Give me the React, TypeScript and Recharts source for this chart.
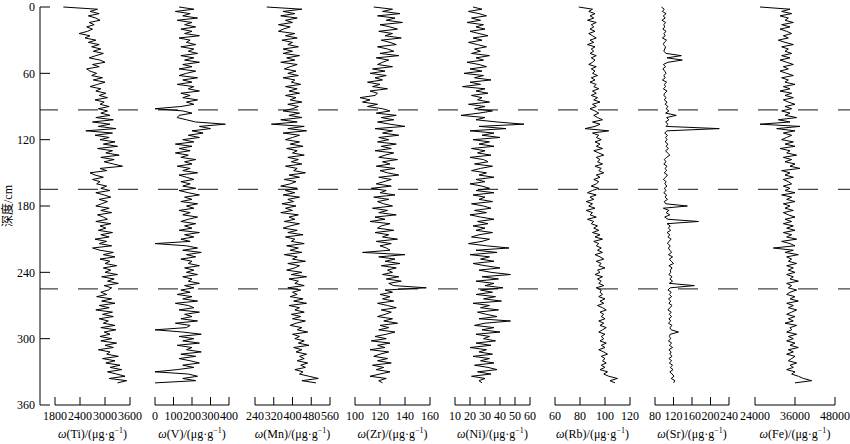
import { LineChart, Line, XAxis, YAxis, ReferenceLine, Label } from 'recharts'

const FONT = "'Liberation Serif', 'Times New Roman', 'Noto Sans CJK SC', serif"

// sampling depths (cm), every 2 cm from 0 to 340
const depths = Array.from({ length: 171 }, (_, i) => i * 2)
const depthTicks = [0, 60, 120, 180, 240, 300, 360]
const boundaries = [93, 165, 255]

const ti = [
  2000, 2820, 2640, 2860, 2600, 2780, 2880, 2620, 2740, 2560,
  2700, 2580, 2380, 2640, 2520, 2780, 2600, 2860, 2680, 2900,
  2720, 2960, 2780, 2620, 2880, 3000, 2700, 2860, 2560, 2640,
  2800, 2680, 2940, 2720, 3000, 2820, 2640, 2900, 2780, 3020,
  2860, 3060, 2760, 2980, 2880, 3100, 2840, 3060, 2900, 3120,
  2780, 3200, 2700, 3120, 2840, 3260, 2540, 3180, 2760, 3100,
  2880, 3240, 2960, 3300, 2820, 3180, 3020, 3340, 2900, 3220,
  2980, 3200, 3420, 2880, 3040, 2640, 2760, 2960, 2700, 2880,
  2800, 3040, 2900, 3120, 2780, 2980, 3140, 2860, 3060, 2920,
  2780, 3100, 2900, 3160, 2820, 2960, 3060, 2780, 3140, 2880,
  3020, 2840, 3180, 2900, 3100, 2760, 3040, 2860, 3160, 2700,
  2880, 3200, 2960, 3240, 2880, 3120, 3000, 3280, 2960, 3140,
  3000, 3300, 2920, 3220, 3060, 3320, 2980, 3160, 3080, 2900,
  3040, 2800, 3160, 2920, 3240, 2860, 3100, 2780, 3180, 2940,
  3200, 2860, 3080, 2960, 3240, 2900, 3260, 2980, 3120, 2880,
  3160, 2900, 3280, 3000, 3200, 2840, 3120, 3040, 3320, 2940,
  3240, 3020, 3360, 3120, 3400, 3060, 3280, 3480, 3100, 3520,
  3300,
]

const v = [
  130, 210, 110, 190, 150, 230, 120, 200, 160, 220,
  140, 200, 160, 240, 130, 190, 170, 220, 140, 210,
  180, 230, 140, 210, 160, 240, 150, 200, 130, 220,
  170, 130, 230, 150, 200, 120, 210, 180, 240, 140,
  190, 150, 230, 170, 210, 140, 0, 150, 200, 130,
  120, 170, 220, 380, 240, 300, 200, 260, 180, 240,
  150, 210, 110, 200, 130, 190, 110, 180, 140, 220,
  160, 200, 120, 190, 150, 230, 130, 170, 210, 140,
  190, 150, 220, 130, 180, 240, 160, 200, 140, 230,
  170, 210, 130, 190, 150, 230, 180, 140, 220, 160,
  200, 130, 240, 160, 210, 140, 190, 0, 170, 230,
  150, 250, 170, 220, 140, 200, 180, 240, 160, 210,
  170, 230, 150, 200, 180, 240, 160, 210, 140, 190,
  120, 200, 150, 230, 110, 180, 210, 130, 240, 160,
  200, 140, 230, 110, 190, 170, 0, 150, 250, 130,
  210, 150, 240, 120, 200, 170, 250, 140, 220, 130,
  190, 240, 150, 210, 120, 0, 180, 230, 150, 220,
  0,
]

const mn = [
  290, 440, 360, 410, 350, 420, 370, 400, 340, 390,
  360, 340, 410, 370, 420, 355, 400, 380, 425, 360,
  400, 360, 430, 375, 410, 350, 420, 390, 365, 415,
  380, 425, 360, 410, 395, 435, 370, 420, 385, 430,
  370, 415, 390, 440, 380, 425, 400, 360, 430, 385,
  440, 350, 420, 310, 450, 380, 460, 360, 430, 400,
  370, 430, 390, 445, 375, 420, 400, 450, 380, 425,
  395, 440, 370, 420, 405, 455, 385, 430, 365, 415,
  390, 350, 420, 370, 410, 360, 430, 380, 405, 355,
  415, 370, 400, 350, 425, 385, 410, 365, 430, 390,
  360, 420, 380, 445, 370, 410, 395, 450, 375, 425,
  390, 440, 365, 420, 400, 455, 380, 430, 410, 375,
  440, 395, 460, 385, 425, 410, 450, 380, 435, 400,
  420, 390, 445, 405, 460, 385, 430, 410, 450, 395,
  435, 400, 455, 415, 390, 440, 420, 465, 400, 430,
  410, 450, 425, 470, 405, 440, 415, 460, 430, 450,
  420, 465, 435, 455, 410, 445, 430, 470, 510, 440,
  500,
]

const zr = [
  115, 130, 122, 136, 118, 132, 125, 138, 120, 128,
  134, 119, 130, 124, 137, 121, 128, 133, 118, 126,
  131, 120, 135, 117, 127, 122, 118, 130, 114, 124,
  112, 125, 116, 122, 110, 120, 114, 126, 112, 118,
  116, 104, 112, 106, 118, 110, 122, 128, 117, 133,
  121, 131, 118, 128, 140, 116, 130, 122, 135, 119,
  127, 118, 133, 121, 129, 116, 131, 124, 119, 134,
  122, 128, 117, 132, 120, 126, 135, 119, 129, 123,
  117, 129, 113, 125, 120, 132, 115, 127, 118, 123,
  130, 114, 126, 119, 133, 116, 124, 112, 128, 121,
  118, 131, 116, 127, 122, 134, 117, 129, 120, 125,
  128, 106, 140, 119, 132, 124, 136, 121, 133, 126,
  130, 122, 135, 125, 137, 127, 131, 157, 124, 130,
  120, 128, 122, 131, 118, 126, 133, 121, 129, 124,
  118, 130, 123, 134, 120, 127, 119, 132, 125, 116,
  125, 113, 128, 118, 124, 112, 127, 120, 115, 126,
  118, 129, 114, 123, 117, 128, 120, 112, 125, 119,
  122,
]

const ni = [
  22, 28, 19, 26, 31, 21, 27, 18, 29, 24,
  30, 20, 26, 32, 22, 28, 19, 25, 31, 23,
  27, 21, 33, 24, 29, 18, 26, 31, 20, 28,
  16, 29, 23, 34, 20, 27, 15, 30, 24, 32,
  21, 28, 25, 33, 19, 30, 23, 35, 26, 14,
  30, 24, 38, 56, 26, 44, 20, 36, 28, 40,
  22, 33, 26, 36, 21, 30, 25, 34, 20, 29,
  32, 23, 35, 27, 21, 31, 26, 36, 24, 30,
  20, 28, 33, 24, 36, 22, 30, 26, 35, 21,
  29, 34, 23, 31, 20, 27, 36, 25, 32, 22,
  30, 24, 35, 26, 21, 33, 28, 19, 31, 46,
  24, 38, 20, 33, 27, 36, 22, 30, 40, 26,
  34, 47, 28, 39, 24, 36, 30, 42, 27, 35,
  24, 37, 29, 41, 22, 33, 27, 39, 25, 31,
  38, 26, 47, 30, 23, 36, 28, 40, 24, 33,
  29, 37, 24, 34, 20, 31, 26, 35, 22, 33,
  27, 36, 23, 32, 38, 25, 34, 21, 30, 26,
  28,
]

const rb = [
  79, 90, 87, 92, 88, 91, 86, 93, 89, 91,
  88, 92, 87, 90, 93, 88, 91, 86, 92, 89,
  91, 88, 93, 89, 92, 90, 87, 93, 89, 92,
  90, 94, 89, 92, 88, 93, 91, 95, 90, 93,
  89, 94, 91, 96, 90, 93, 88, 92, 95, 91,
  94, 98, 90, 96, 92, 84, 103, 90, 95, 93,
  97, 92, 96, 93, 98, 91, 95, 99, 93, 96,
  94, 98, 92, 97, 95, 99, 93, 96, 91, 95,
  93, 89, 95, 90, 86, 93, 88, 91, 85, 90,
  87, 92, 85, 90, 88, 93, 86, 91, 89, 94,
  91, 95, 90, 96, 92, 98, 91, 95, 93, 97,
  94, 98, 92, 96, 99, 93, 97, 95, 100, 94,
  96, 92, 98, 94, 97, 95, 99, 93, 97, 96,
  98, 95, 100, 96, 99, 94, 98, 101, 96, 99,
  97, 100, 95, 99, 96, 101, 98, 95, 100, 97,
  99, 96, 101, 97, 100, 95, 99, 102, 97, 100,
  98, 101, 97, 100, 96, 102, 99, 103, 110, 104,
  108,
]

const sr = [
  94, 100, 96, 104, 98, 102, 95, 103, 99, 101,
  97, 104, 99, 102, 96, 105, 100, 98, 103, 101,
  99, 104, 137, 106, 139, 108, 98, 103, 97, 101,
  104, 99, 102, 96, 105, 100, 103, 98, 106, 101,
  99, 104, 100, 106, 102, 108, 104, 110, 103, 126,
  105, 110, 103, 108, 104, 219, 106, 101, 107, 103,
  106, 102, 108, 104, 109, 103, 107, 112, 105, 100,
  104, 99, 106, 102, 105, 100, 107, 103, 98, 104,
  101, 106, 100, 104, 99, 105, 102, 107, 100, 103,
  150, 98, 110, 104, 112, 101, 108, 174, 106, 113,
  109, 114, 106, 112, 108, 115, 110, 107, 113, 109,
  112, 116, 109, 118, 111, 115, 120, 110, 117, 113,
  114, 110, 117, 112, 118, 111, 165, 113, 108, 115,
  111, 116, 109, 114, 110, 117, 112, 108, 115, 111,
  116, 110, 114, 109, 117, 112, 115, 131, 113, 111,
  114, 109, 116, 111, 118, 110, 115, 112, 117, 110,
  116, 111, 118, 113, 119, 112, 117, 121, 115, 123,
  120,
]

const fe = [
  25500, 34500, 32000, 35000, 31500, 34000, 33000, 35500, 32000, 34500,
  31500, 33500, 35000, 32500, 34000, 31000, 33000, 35500, 32000, 34000,
  33000, 35000, 32000, 34500, 31500, 33500, 35500, 32500, 34000, 31500,
  33500, 35500, 32000, 34000, 33000, 36000, 32500, 34500, 31500, 35000,
  33000, 35500, 32500, 34000, 36000, 33000, 35000, 32000, 34500, 33000,
  36500, 31000, 34500, 25500, 37500, 30500, 36000, 32500, 35000, 33500,
  32000, 35500, 33000, 36000, 31500, 34500, 33500, 36500, 32500, 35000,
  33000, 36000, 34500, 37500, 32000, 34500, 33000, 35500, 32500, 34000,
  35000, 32500, 34500, 33000, 36000, 32000, 35000, 33500, 36000, 32500,
  34500, 33000, 35500, 32500, 34000, 36000, 33000, 35000, 32500, 35500,
  33500, 36000, 32500, 35000, 33500, 36500, 32000, 34500, 36000, 29500,
  35500, 33000, 37000, 33500, 35000, 34000, 36500, 33500, 35500, 34000,
  36000, 33500, 35500, 34500, 37000, 33500, 35000, 34000, 36500, 34500,
  33500, 36000, 34500, 37000, 33500, 35500, 34000, 36500, 35000, 33500,
  36000, 34000, 35500, 33000, 36500, 34500, 35000, 33500, 36500, 34000,
  35500, 33500, 36000, 34500, 37000, 34000, 35500, 33500, 36000, 35000,
  34000, 36500, 34500, 35500, 33500, 36000, 35000, 37000, 38500, 41000,
  36000,
]

const rows = depths.map((depth, i) => ({
  depth,
  Ti: ti[i],
  V: v[i],
  Mn: mn[i],
  Zr: zr[i],
  Ni: ni[i],
  Rb: rb[i],
  Sr: sr[i],
  Fe: fe[i],
}))

const panels = [
  { key: 'Ti', left: 55, width: 75, ticks: [1800, 2400, 3000, 3600] },
  { key: 'V', left: 155, width: 74, ticks: [0, 100, 200, 300, 400] },
  { key: 'Mn', left: 255, width: 75, ticks: [240, 320, 400, 480, 560] },
  { key: 'Zr', left: 355, width: 75, ticks: [100, 120, 140, 160] },
  { key: 'Ni', left: 455, width: 75, ticks: [10, 20, 30, 40, 50, 60] },
  { key: 'Rb', left: 555, width: 75, ticks: [60, 80, 100, 120] },
  { key: 'Sr', left: 655, width: 74, ticks: [80, 120, 160, 200, 240] },
  { key: 'Fe', left: 755, width: 80, ticks: [24000, 36000, 48000] },
]

const H = 444
const TOP = 7
const BOTTOM = 39
const tickStyle = { fill: '#000', fontSize: 12, fontFamily: FONT }

function AxisTitle({ viewBox, name }: any) {
  const cx = viewBox.x + viewBox.width / 2
  return (
    <text x={cx} y={viewBox.y + 33} textAnchor="middle" fontSize={12} fontFamily={FONT} fill="#000">
      <tspan fontStyle="italic">ω</tspan>
      <tspan>({name})/(μg·g</tspan>
      <tspan dy={-5} fontSize={8}>−1</tspan>
      <tspan dy={5}>)</tspan>
    </text>
  )
}

function Panel({ p }: { p: (typeof panels)[number] }) {
  const pad = 30
  const min = p.ticks[0]
  const max = p.ticks[p.ticks.length - 1]
  return (
    <div style={{ position: 'absolute', left: p.left - pad, top: 0 }}>
      <LineChart
        width={p.width + pad * 2}
        height={H}
        data={rows}
        layout="vertical"
        margin={{ top: TOP, right: pad, left: pad, bottom: BOTTOM - 30 }}
      >
        <XAxis
          type="number"
          domain={[min, max]}
          ticks={p.ticks}
          interval={0}
          height={30}
          tickSize={-8}
          tickMargin={14}
          tick={tickStyle}
          axisLine={{ stroke: '#000' }}
          tickLine={{ stroke: '#000' }}
          label={<Label content={(props: any) => <AxisTitle viewBox={props.viewBox} name={p.key} />} />}
        />
        <YAxis hide type="number" dataKey="depth" domain={[0, 360]} />
        <Line
          dataKey={p.key}
          stroke="#000"
          strokeWidth={1}
          dot={false}
          type="linear"
          isAnimationActive={false}
        />
      </LineChart>
    </div>
  )
}

export default function App() {
  return (
    <div
      style={{
        position: 'absolute',
        left: 0,
        top: 0,
        width: 850,
        height: H,
        background: '#fff',
        fontFamily: FONT,
      }}
    >
      <div style={{ position: 'absolute', left: 0, top: 0 }}>
        <LineChart width={850} height={H} data={rows} margin={{ top: TOP, right: 0, left: 0, bottom: BOTTOM }}>
          <XAxis hide type="number" domain={[0, 1]} />
          <YAxis
            type="number"
            dataKey="depth"
            domain={[0, 360]}
            ticks={depthTicks}
            interval={0}
            reversed
            width={40}
            tickSize={-10}
            tickMargin={15}
            tick={tickStyle}
            axisLine={{ stroke: '#000' }}
            tickLine={{ stroke: '#000' }}
            label={{
              value: '深度/cm',
              angle: -90,
              position: 'insideLeft',
              offset: 8,
              style: { textAnchor: 'middle', fontSize: 12, fontFamily: FONT, fill: '#000' },
            }}
          />
          {boundaries.map((d) => (
            <ReferenceLine
              key={d}
              y={d}
              stroke="#444"
              strokeWidth={1.3}
              strokeDasharray="20 20"
              strokeDashoffset={2}
            />
          ))}
        </LineChart>
      </div>
      {panels.map((p) => (
        <Panel key={p.key} p={p} />
      ))}
    </div>
  )
}
